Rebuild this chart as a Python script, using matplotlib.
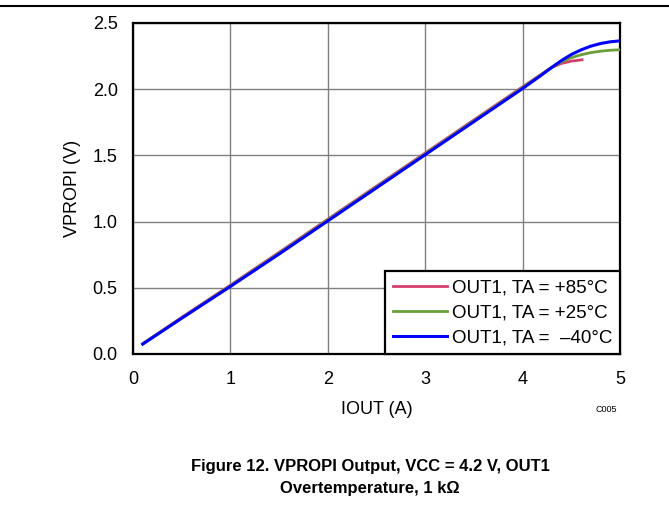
import matplotlib
matplotlib.use("Agg")
import matplotlib.pyplot as plt
from matplotlib.lines import Line2D

plt.rcParams['font.family'] = ['Liberation Sans', 'DejaVu Sans']

# Data
x_85 = [0.1, 0.5, 1.0, 1.5, 2.0, 2.5, 3.0, 3.5, 4.0, 4.2, 4.3, 4.4, 4.5, 4.61]
y_85 = [0.078, 0.277, 0.52, 0.768, 1.018, 1.268, 1.518, 1.768, 2.018, 2.117, 2.165, 2.195, 2.212, 2.222]

x_25 = [0.1, 0.5, 1.0, 1.5, 2.0, 2.5, 3.0, 3.5, 4.0, 4.2, 4.3, 4.4, 4.5, 4.6, 4.7, 4.8, 4.9, 5.0]
y_25 = [0.076, 0.273, 0.515, 0.762, 1.012, 1.262, 1.512, 1.762, 2.012, 2.115, 2.165, 2.208, 2.238, 2.26, 2.276, 2.287, 2.294, 2.298]

x_m40 = [0.1, 0.5, 1.0, 1.5, 2.0, 2.5, 3.0, 3.5, 4.0, 4.2, 4.3, 4.4, 4.5, 4.6, 4.7, 4.8, 4.9, 5.0]
y_m40 = [0.075, 0.27, 0.51, 0.755, 1.005, 1.255, 1.505, 1.755, 2.005, 2.11, 2.165, 2.217, 2.262, 2.297, 2.325, 2.345, 2.358, 2.365]

labels = ['OUT1, TA = +85°C', 'OUT1, TA = +25°C', 'OUT1, TA =  \u201340°C']
x_ticks = [0, 1, 2, 3, 4, 5]
y_ticks = [0.0, 0.5, 1.0, 1.5, 2.0, 2.5]

fig = plt.figure(figsize=(6.69, 5.23), dpi=100)
ax = fig.add_axes([133/669, 1-354/523, (620-133)/669, (354-23)/523])

ax.plot(x_85, y_85, color='#d53f6c', lw=2.0, label=labels[0], zorder=3)
ax.plot(x_25, y_25, color='#6b9e37', lw=2.0, label=labels[1], zorder=3)
ax.plot(x_m40, y_m40, color='#0000ff', lw=2.2, label=labels[2], zorder=4)

ax.set_xlim(0, 5)
ax.set_ylim(0, 2.5)
ax.set_xticks(x_ticks)
ax.set_xticklabels([str(v) for v in x_ticks])
ax.set_yticks(y_ticks)
ax.set_yticklabels([f"{v:.1f}" for v in y_ticks])
ax.tick_params(length=0, labelsize=13)
ax.tick_params(axis='y', pad=11)
ax.tick_params(axis='x', pad=12.5)
ax.grid(True, color='#808080', lw=1.0)
ax.set_axisbelow(True)
for s in ax.spines.values():
    s.set_color('black')
    s.set_linewidth(1.6)

ax.set_xlabel('IOUT (A)', fontsize=13, labelpad=9)
ax.set_ylabel('VPROPI (V)', fontsize=13, labelpad=8)

leg = ax.legend(loc='lower right', fontsize=13.5, frameon=True, fancybox=False,
                borderaxespad=0, handlelength=2.9, handletextpad=0.25,
                labelspacing=0.42, borderpad=0.42)
leg.get_frame().set_edgecolor('black')
leg.get_frame().set_linewidth(1.6)
leg.get_frame().set_alpha(1)
leg.set_zorder(10)

fig.text(606/669, 1-409/523, 'C005', fontsize=6.5, ha='center', va='center')

fig.text(370/669, 1-466/523, 'Figure 12. VPROPI Output, VCC = 4.2 V, OUT1',
         fontsize=12, fontweight='bold', ha='center', va='center')
fig.text(370/669, 1-488/523, 'Overtemperature, 1 k\u03a9',
         fontsize=12, fontweight='bold', ha='center', va='center')

fig.add_artist(Line2D([0, 1], [1-6/523, 1-6/523], color='black', lw=1.5,
                      transform=fig.transFigure))

fig.savefig('out.png', dpi=100)
